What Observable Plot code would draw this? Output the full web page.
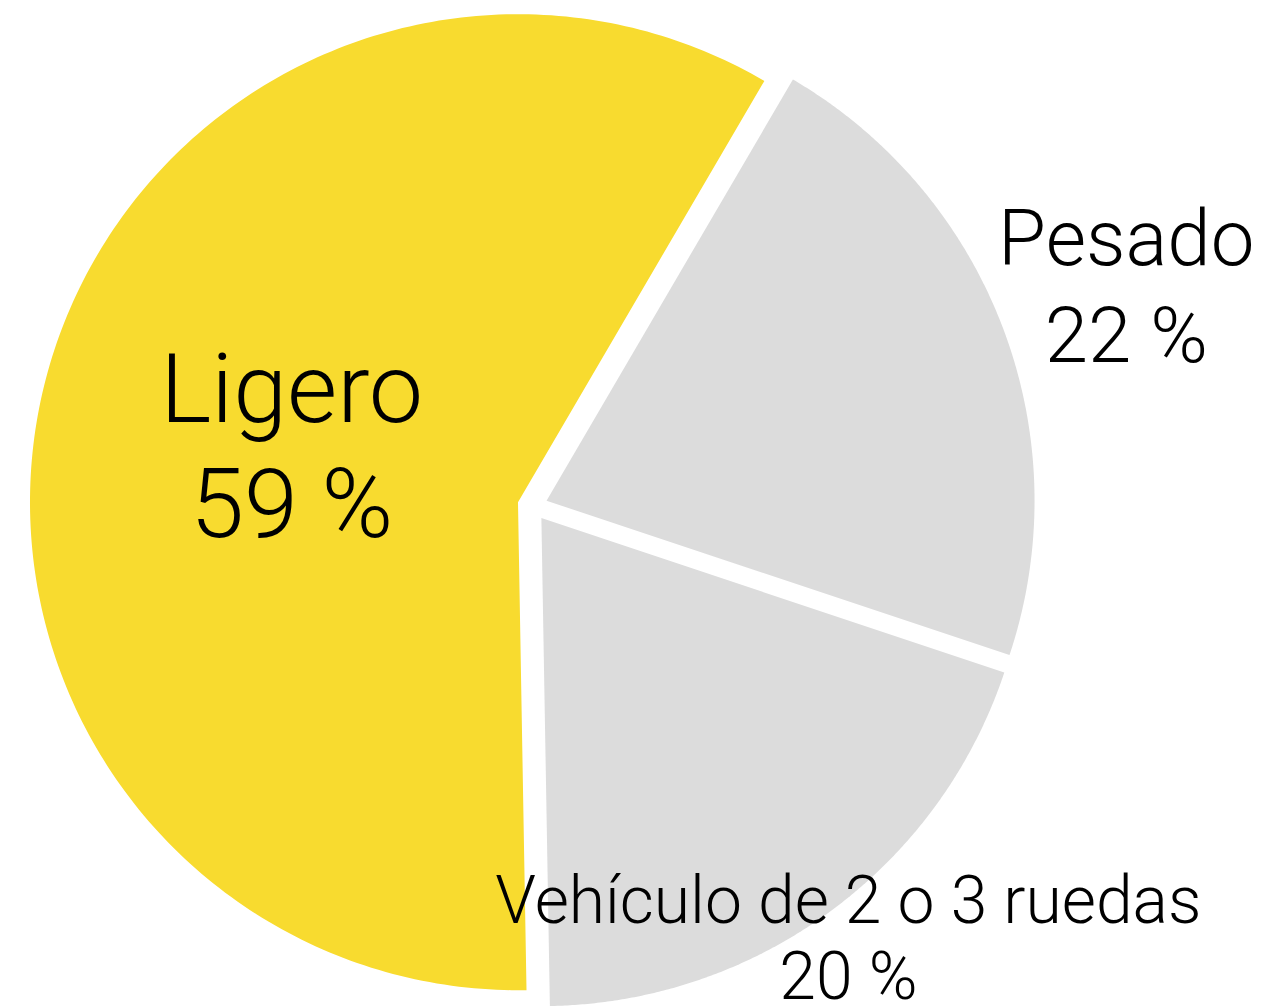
<!DOCTYPE html>
<html>
<head>
<meta charset="utf-8">
<script src="https://cdn.jsdelivr.net/npm/d3@7"></script>
<script src="https://cdn.jsdelivr.net/npm/@observablehq/plot@0.6"></script>
<style>
  html, body { margin: 0; padding: 0; background: #ffffff; }
  #chart svg { display: block; }
</style>
</head>
<body>
<div id="chart"></div>
<script>
// ---- data ----
const categories = ["Ligero", "Pesado", "Vehículo de 2 o 3 ruedas"];
const shares = [58.7, 21.7, 19.6];
const percentLabels = ["59 %", "22 %", "20 %"];
const sliceColors = ["#F8DB2F", "#DCDCDC", "#DCDCDC"];

// ---- layout (pixels) ----
const W = 1270, H = 1007;
const CX = 532, CY = 505.5, R = 488;
const START = 179 * Math.PI / 180;   // first slice starts just left of 6 o'clock, clockwise
const EXPLODE = 15 / R;
const labelStyle = {
  "Ligero": {r: 0.51, size: 97, lh: 1.18},
  "Pesado": {r: 1.30, size: 78, lh: 1.247},
  "Vehículo de 2 o 3 ruedas": {r: 1.094, size: 66, lh: 1.162}
};

const rows = categories.map((c, i) => ({category: c, share: shares[i], pct: percentLabels[i]}));
const arcs = d3.pie().sort(null).value(d => d.share)
  .startAngle(START).endAngle(START + 2 * Math.PI)(rows);

// polygon vertices for each exploded slice (unit radius, y up)
const poly = [];
const labels = [];
arcs.forEach(a => {
  const mid = (a.startAngle + a.endAngle) / 2;
  const ox = EXPLODE * Math.sin(mid), oy = EXPLODE * Math.cos(mid);
  const cat = a.data.category;
  poly.push({category: cat, x: ox, y: oy});
  const n = 240;
  for (let k = 0; k <= n; k++) {
    const t = a.startAngle + (a.endAngle - a.startAngle) * k / n;
    poly.push({category: cat, x: ox + Math.sin(t), y: oy + Math.cos(t)});
  }
  poly.push({category: cat, x: ox, y: oy});
  const s = labelStyle[cat];
  labels.push({category: cat, text: cat + "\n" + a.data.pct,
               x: s.r * Math.sin(mid), y: s.r * Math.cos(mid)});
});

const textMarks = categories.map(c => {
  const s = labelStyle[c];
  return Plot.text(labels.filter(d => d.category === c), {
    x: "x", y: "y", text: "text",
    fontSize: s.size, lineHeight: s.lh,
    fontFamily: "Roboto, 'Liberation Sans', sans-serif", fontWeight: 300,
    fill: "#000000", textAnchor: "middle", lineAnchor: "middle"
  });
});

const chart = Plot.plot({
  width: W, height: H,
  margin: 0,
  style: {background: "#ffffff", overflow: "visible"},
  x: {domain: [-CX / R, (W - CX) / R], axis: null},
  y: {domain: [-(H - CY) / R, CY / R], axis: null},
  color: {domain: categories, range: sliceColors},
  marks: [
    Plot.line(poly, {x: "x", y: "y", z: "category", fill: "category", stroke: "none", curve: "linear"}),
    ...textMarks
  ]
});
document.getElementById("chart").appendChild(chart);
</script>
</body>
</html>
